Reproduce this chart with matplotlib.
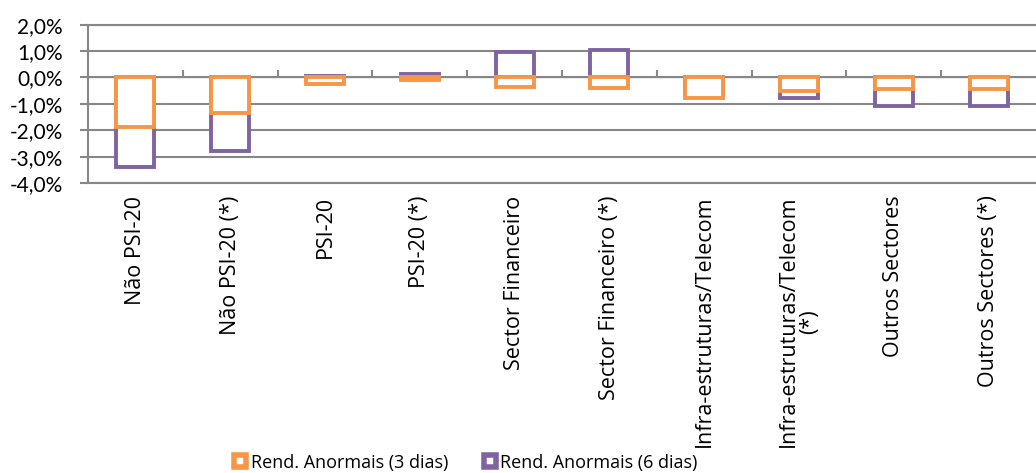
import matplotlib.pyplot as plt
from matplotlib.lines import Line2D
from matplotlib.ticker import FuncFormatter, FixedLocator, NullFormatter
import numpy as np

plt.rcParams['font.family'] = ['Open Sans', 'DejaVu Sans']

categorias = ['Não PSI-20', 'Não PSI-20 (*)', 'PSI-20', 'PSI-20 (*)',
              'Sector Financeiro', 'Sector Financeiro (*)',
              'Infra-estruturas/Telecom', 'Infra-estruturas/Telecom\n(*)',
              'Outros Sectores', 'Outros Sectores (*)']
rend_3dias = [-1.86, -1.35, -0.24, -0.11, -0.36, -0.39, -0.78, -0.53, -0.43, -0.44]
rend_6dias = [-3.40, -2.78, 0.05, 0.13, 0.98, 1.05, -0.60, -0.79, -1.07, -1.07]
serie_nomes = ['Rend. Anormais (3 dias)', 'Rend. Anormais (6 dias)']
y_ticks = [-4, -3, -2, -1, 0, 1, 2]

laranja = '#F79646'
roxo = '#8064A2'
cinza = '#878787'

fig = plt.figure(figsize=(10.36, 4.73), dpi=100)
ax = fig.add_axes([0.085, 0.613, 0.915, 0.335])

x = np.arange(len(categorias))
largura = 0.40
# 6 dias por baixo, 3 dias por cima (mesma posicao)
ax.bar(x, rend_6dias, largura, facecolor='white', edgecolor=roxo, linewidth=2.8, zorder=3)
ax.bar(x, rend_3dias, largura, facecolor='white', edgecolor=laranja, linewidth=2.8, zorder=4)

ax.set_xlim(-0.5, len(categorias) - 0.5)
ax.set_ylim(y_ticks[0], y_ticks[-1])
ax.set_yticks(y_ticks)
ax.yaxis.set_major_formatter(FuncFormatter(lambda v, p: ('%.1f%%' % v).replace('.', ',')))
ax.tick_params(axis='y', length=6, width=1.5, color=cinza, pad=12)
for lab in ax.get_yticklabels():
    lab.set_fontfamily(['Lato', 'DejaVu Sans'])
    lab.set_fontsize(15)
ax.yaxis.grid(True, color=cinza, linewidth=1.5, zorder=1)
ax.set_axisbelow(True)

ax.spines['right'].set_visible(False)
for s in ['left', 'top', 'bottom']:
    ax.spines[s].set_color(cinza)
    ax.spines[s].set_linewidth(1.5)

# eixo horizontal no zero com marcas entre categorias
ax.set_xticks([])
zero_pos = (0 - y_ticks[0]) / (y_ticks[-1] - y_ticks[0])
eixo0 = ax.secondary_xaxis(zero_pos)
eixo0.xaxis.set_major_locator(FixedLocator(x[:-1] + 0.5))
eixo0.xaxis.set_major_formatter(NullFormatter())
eixo0.tick_params(length=5, width=1.5, color=cinza, direction='out')
eixo0.spines['bottom'].set_color(cinza)
eixo0.spines['bottom'].set_linewidth(1.5)
eixo0.spines['bottom'].set_zorder(5)

# rotulos das categorias por baixo da area do grafico
eixo_lab = ax.secondary_xaxis('bottom')
eixo_lab.set_xticks(x)
eixo_lab.set_xticklabels(categorias, rotation=90, fontsize=15.5, va='top', ha='center',
                         multialignment='center', linespacing=1.0)
eixo_lab.tick_params(length=0, pad=9)
eixo_lab.spines['bottom'].set_visible(False)

handles = [Line2D([], [], linestyle='none', marker='s', markersize=8.5, markeredgewidth=4,
                  markerfacecolor='white', markeredgecolor=c) for c in [laranja, roxo]]
fig.legend(handles, serie_nomes, loc='center', bbox_to_anchor=(0.449, 0.022), ncol=2,
           frameon=False, fontsize=13, handlelength=0.8, handletextpad=0.2,
           columnspacing=1.9, borderaxespad=0)

fig.savefig('out.png', dpi=100)
